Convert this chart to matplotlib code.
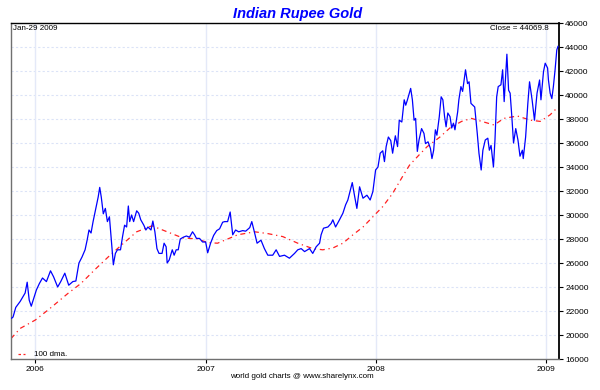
import matplotlib
matplotlib.use("Agg")
import matplotlib.pyplot as plt

# ---- data (decimal years, INR per 10g approx) ----
price_t = [2005.861, 2005.869, 2005.885, 2005.911, 2005.940, 2005.952, 2005.964, 2005.976,
           2006.006, 2006.024, 2006.042, 2006.065, 2006.089, 2006.107, 2006.131, 2006.149,
           2006.173, 2006.196, 2006.220, 2006.238, 2006.256, 2006.274, 2006.292, 2006.304,
           2006.315, 2006.327, 2006.339, 2006.357, 2006.369, 2006.378, 2006.387, 2006.399,
           2006.411, 2006.423, 2006.435, 2006.446, 2006.458, 2006.470, 2006.482, 2006.500,
           2006.512, 2006.524, 2006.536, 2006.546, 2006.554, 2006.565, 2006.577, 2006.595,
           2006.607, 2006.619, 2006.637, 2006.649, 2006.661, 2006.679, 2006.690, 2006.702,
           2006.714, 2006.726, 2006.744, 2006.756, 2006.768, 2006.774, 2006.786, 2006.804,
           2006.815, 2006.827, 2006.839, 2006.851, 2006.869, 2006.887, 2006.905, 2006.923,
           2006.935, 2006.946, 2006.964, 2006.982, 2007.000,
           2007.012, 2007.029, 2007.047, 2007.065, 2007.082, 2007.100, 2007.112, 2007.129,
           2007.144, 2007.159, 2007.176, 2007.194, 2007.218, 2007.235, 2007.259, 2007.271,
           2007.286, 2007.302, 2007.325, 2007.345, 2007.365, 2007.394, 2007.414, 2007.434,
           2007.463, 2007.492, 2007.522, 2007.541, 2007.561, 2007.581, 2007.610, 2007.629,
           2007.649, 2007.669, 2007.678, 2007.692, 2007.718, 2007.737, 2007.747, 2007.763,
           2007.786, 2007.806, 2007.822, 2007.835, 2007.845, 2007.861, 2007.875, 2007.888,
           2007.904, 2007.924, 2007.947, 2007.966, 2007.982, 2007.998,
           2008.012, 2008.025, 2008.040, 2008.050, 2008.060, 2008.073, 2008.087, 2008.098,
           2008.114, 2008.127, 2008.137, 2008.152, 2008.166, 2008.175, 2008.185, 2008.204,
           2008.214, 2008.224, 2008.233, 2008.243, 2008.253, 2008.268, 2008.282, 2008.291,
           2008.306, 2008.320, 2008.329, 2008.339, 2008.349, 2008.358, 2008.372, 2008.383,
           2008.393, 2008.403, 2008.412, 2008.422, 2008.435, 2008.445, 2008.455, 2008.464,
           2008.480, 2008.487, 2008.499, 2008.509, 2008.518, 2008.526, 2008.538, 2008.547,
           2008.558, 2008.580, 2008.595, 2008.605, 2008.618, 2008.628, 2008.642, 2008.657,
           2008.666, 2008.676, 2008.690, 2008.699, 2008.709, 2008.718, 2008.734, 2008.744,
           2008.753, 2008.769, 2008.779, 2008.788, 2008.798, 2008.808, 2008.821, 2008.834,
           2008.846, 2008.860, 2008.865, 2008.879, 2008.892, 2008.902, 2008.917, 2008.931,
           2008.946, 2008.961, 2008.969, 2008.984, 2008.994, 2009.008, 2009.013, 2009.023,
           2009.033, 2009.042, 2009.052, 2009.062, 2009.069]
price_v = [21400, 21500, 22300, 22800, 23500, 24400, 22900, 22400,
           23750, 24300, 24750, 24450, 25350, 24850, 24000, 24450,
           25150, 24150, 24450, 24500, 26000, 26500, 27100, 27900,
           28750, 28500, 29450, 30700, 31500, 32300, 31500, 30100,
           30550, 29450, 29850, 27900, 25850, 26800, 27100, 27100,
           28200, 29150, 29000, 30750, 29450, 30000, 29450, 30350,
           30150, 29600, 29150, 28750, 29000, 28750, 29500, 28600,
           27200, 26800, 26800, 27650, 27350, 26000, 26250, 27100,
           26650, 27100, 27100, 28000, 28150, 28250, 28150, 28600,
           28350, 28050, 28050, 27750, 27750,
           26850, 27650, 28300, 28700, 28850, 29400, 29450, 29450,
           30250, 28350, 28750, 28600, 28700, 28650, 28950, 29450,
           28600, 27650, 27900, 27200, 26650, 26650, 27100, 26550,
           26650, 26400, 26800, 27100, 27200, 26950, 27200, 26800,
           27350, 27650, 28350, 28900, 29000, 29300, 29600, 29000,
           29600, 30150, 30850, 31250, 31800, 32700, 31550, 30550,
           32350, 31400, 31650, 31250, 31950, 33750,
           34000, 35150, 35350, 34450, 35700, 36500, 36200, 35150,
           36600, 35700, 37900, 37750, 39600, 39150, 39600, 40550,
           39600, 37900, 38050, 35300, 36250, 37200, 36800, 35950,
           36100, 35550, 34700, 35400, 37100, 36650, 38200, 39850,
           39600, 38200, 37350, 38500, 38200, 37250, 37650, 37100,
           38600, 39600, 40700, 40300, 41250, 42100, 40950, 41100,
           39300, 39000, 36800, 35150, 33750, 35400, 36250, 36400,
           35400, 35800, 34000, 36250, 39850, 40700, 40850, 42100,
           39450, 43400, 40400, 40150, 38200, 36000, 37200, 36250,
           34900, 35400, 34700, 36500, 39300, 41100, 39600, 37900,
           40150, 41250, 39600, 41950, 42650, 42250, 41250, 40150,
           39700, 40700, 42100, 43750, 44050]

dma_t = [2005.857, 2005.911, 2006.000, 2006.089, 2006.190, 2006.268, 2006.357, 2006.435,
         2006.506, 2006.595, 2006.685, 2006.774, 2006.863, 2006.952, 2007.012, 2007.070,
         2007.129, 2007.188, 2007.288, 2007.365, 2007.453, 2007.541, 2007.629, 2007.688,
         2007.747, 2007.806, 2007.865, 2007.924, 2007.982, 2008.040, 2008.098, 2008.156,
         2008.197, 2008.253, 2008.301, 2008.376, 2008.434, 2008.503, 2008.561, 2008.694,
         2008.751, 2008.830, 2008.908, 2008.965, 2009.023, 2009.069]
dma_v = [19700, 20550, 21250, 22250, 23450, 24300, 25550, 26600,
         27500, 28600, 29100, 28600, 28100, 28000, 27700, 27650,
         28000, 28350, 28600, 28450, 28200, 27650, 27200, 27100,
         27250, 27650, 28350, 29000, 29850, 30700, 31800, 33200,
         34150, 35000, 35700, 36500, 37250, 37800, 38050, 37500,
         38050, 38250, 37900, 37800, 38350, 39000]

year_ticks = [2006, 2007, 2008, 2009]
year_labels = ["2006", "2007", "2008", "2009"]
y_ticks = [18000, 20000, 22000, 24000, 26000, 28000, 30000, 32000, 34000,
           36000, 38000, 40000, 42000, 44000, 46000]
y_labels = ["16000", "20000", "22000", "24000", "26000", "28000", "30000", "32000",
            "34000", "36000", "38000", "40000", "42000", "44000", "46000"]

title = "Indian Rupee Gold"
date_text = "Jan-29 2009"
close_text = "Close = 44069.8"
legend_text = "100 dma."
credit_text = "world gold charts @ www.sharelynx.com"

# ---- plot ----
plt.rcParams['font.family'] = ['Liberation Sans', 'DejaVu Sans']
fig = plt.figure(figsize=(6.0, 3.9), dpi=100)
ax = fig.add_axes([11/600, 31/390, 548/600, 336/390])

grid_c = '#dbe3f7'
for yv in y_ticks:
    ax.axhline(yv, color=grid_c, lw=0.8, ls=(0, (2, 2)), zorder=0)
for xv in year_ticks:
    ax.axvline(xv, color='#e4e9f8', lw=1.0, zorder=0)

ax.plot(dma_t, dma_v, color='#ff2020', lw=0.9, ls=(0, (4, 3, 1, 3)), zorder=2)
ax.plot(price_t, price_v, color='#0000ff', lw=0.9, zorder=3)

ax.set_xlim(2005.857, 2009.075)
ax.set_ylim(18000, 46000)

ax.yaxis.tick_right()
ax.set_yticks(y_ticks)
ax.set_yticklabels(y_labels, fontsize=6)
ax.set_xticks(year_ticks)
ax.set_xticklabels(year_labels, fontsize=6)
ax.tick_params(axis='y', direction='out', length=3, width=0.8, pad=1.5, colors='black')
ax.tick_params(axis='x', direction='out', length=3, width=0.8, pad=2, colors='black')

for s in ['left', 'bottom']:
    ax.spines[s].set_color('#707070')
    ax.spines[s].set_linewidth(1.0)
ax.spines['top'].set_color('black')
ax.spines['top'].set_linewidth(1.0)
ax.spines['right'].set_color('black')
ax.spines['right'].set_linewidth(1.3)

fig.text(298/600, 1 - 14/390, title, ha='center', va='center', fontsize=10.5,
         fontweight='bold', fontstyle='italic', color='#0000ff')
fig.text(13/600, 1 - 29/390, date_text, ha='left', va='center', fontsize=5.8, color='black')
fig.text(549/600, 1 - 28/390, close_text, ha='right', va='center', fontsize=5.8, color='black')
fig.lines.append(matplotlib.lines.Line2D([18/600, 25/600], [1 - 354/390, 1 - 354/390],
                                         transform=fig.transFigure, color='#ff2020', lw=0.9,
                                         ls=(0, (2, 2))))
fig.text(34/600, 1 - 354/390, legend_text, ha='left', va='center', fontsize=5.8, color='black')
fig.text(302/600, 1 - 377/390, credit_text, ha='center', va='center', fontsize=5.8, color='black')

fig.savefig("out.png", dpi=100)
